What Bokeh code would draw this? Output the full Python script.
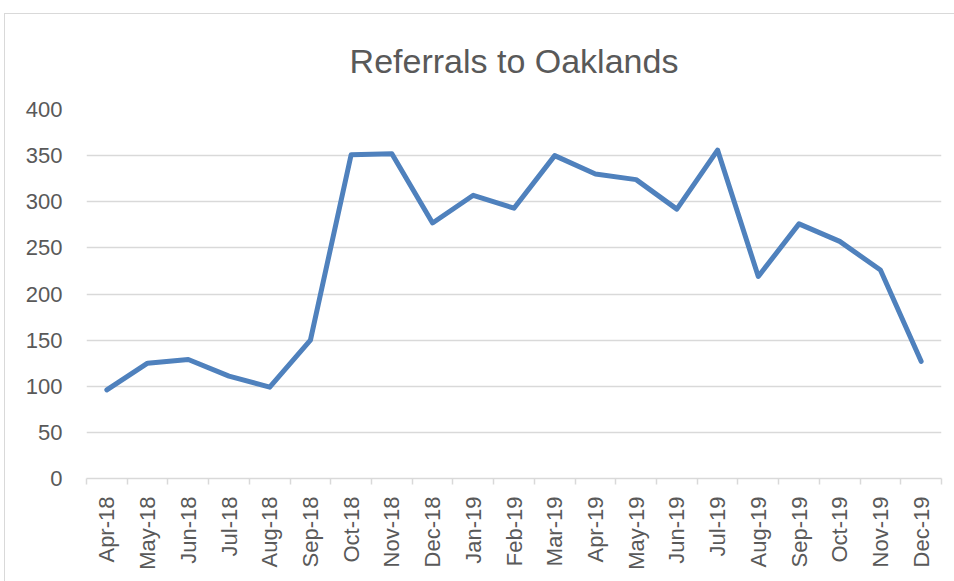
import math
from bokeh.plotting import figure
from bokeh.models import Range1d, FixedTicker
from bokeh.embed import file_html
from bokeh.resources import INLINE

months = ["Apr-18", "May-18", "Jun-18", "Jul-18", "Aug-18", "Sep-18", "Oct-18",
          "Nov-18", "Dec-18", "Jan-19", "Feb-19", "Mar-19", "Apr-19", "May-19",
          "Jun-19", "Jul-19", "Aug-19", "Sep-19", "Oct-19", "Nov-19", "Dec-19"]
referrals = [96, 125, 129, 111, 99, 150, 351, 352, 277, 307, 293, 350, 330, 324,
             292, 356, 219, 276, 257, 226, 127]
y_ticks = [0, 50, 100, 150, 200, 250, 300, 350, 400]

idx = list(range(len(months)))
TEXT = "#595959"
GRID = "#d9d9d9"
FONT = "Liberation Sans"

p = figure(width=950, height=568, margin=(13, 0, 0, 4),
           output_backend="svg", toolbar_location=None,
           x_range=Range1d(-0.5, len(months) - 0.5), y_range=Range1d(0, 400),
           min_border_left=81, min_border_right=14, min_border_top=0,
           min_border_bottom=104,
           styles={"border-left": "1px solid #d9d9d9", "border-top": "1px solid #d9d9d9"})

p.title.text = "Referrals to Oaklands"
p.title.align = "center"
p.title.vertical_align = "top"
p.title.text_font = FONT
p.title.text_font_size = "34px"
p.title.text_font_style = "normal"
p.title.text_color = TEXT
p.title.standoff = 55

p.line(idx, referrals, line_color="#4f81bd", line_width=5, line_join="round",
       line_cap="round")

p.outline_line_color = None
p.background_fill_color = "white"
p.border_fill_color = "white"

# y axis
p.yaxis.ticker = FixedTicker(ticks=y_ticks)
p.yaxis.axis_line_color = None
p.yaxis.major_tick_line_color = None
p.yaxis.minor_tick_line_color = None
p.yaxis.major_label_text_font = FONT
p.yaxis.major_label_text_font_size = "22px"
p.yaxis.major_label_text_color = TEXT
p.yaxis.major_label_standoff = 18
p.ygrid.grid_line_color = GRID
p.ygrid.grid_line_width = 1.5
p.ygrid.ticker = FixedTicker(ticks=y_ticks)

# x axis
p.xaxis.ticker = FixedTicker(ticks=idx, minor_ticks=[i - 0.5 for i in range(len(months) + 1)])
p.xaxis.major_label_overrides = {i: m for i, m in enumerate(months)}
p.xaxis.major_label_orientation = math.pi / 2
p.xaxis.axis_line_color = GRID
p.xaxis.axis_line_width = 1.5
p.xaxis.major_tick_line_color = None
p.xaxis.minor_tick_line_color = GRID
p.xaxis.minor_tick_line_width = 1.5
p.xaxis.minor_tick_out = 6
p.xaxis.minor_tick_in = 0
p.xaxis.major_label_text_font = FONT
p.xaxis.major_label_text_font_size = "22px"
p.xaxis.major_label_text_color = TEXT
p.xaxis.major_label_standoff = 12
p.xgrid.grid_line_color = None

open("out.html", "w").write(file_html(p, INLINE))
